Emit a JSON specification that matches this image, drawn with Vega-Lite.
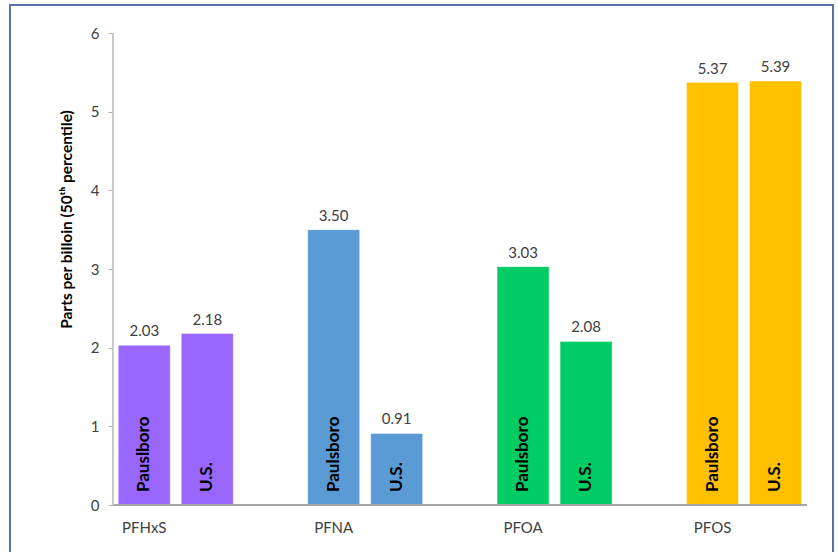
{
  "$schema": "https://vega.github.io/schema/vega-lite/v6.json",
  "autosize": {"type": "none"},
  "padding": {"left": 10, "top": 5, "right": 5, "bottom": 0},
  "width": 823,
  "height": 560,
  "background": "white",
  "config": {
    "view": {"stroke": "#5575a8", "strokeWidth": 2},
    "font": "Lato",
    "text": {"font": "Lato"}
  },
  "data": {
    "values": [
      {"chemical": "PFHxS", "site": "Paulsboro", "name": "Pauslboro", "value": 2.03},
      {"chemical": "PFHxS", "site": "U.S.", "name": "U.S.", "value": 2.18},
      {"chemical": "PFNA", "site": "Paulsboro", "name": "Paulsboro", "value": 3.50},
      {"chemical": "PFNA", "site": "U.S.", "name": "U.S.", "value": 0.91},
      {"chemical": "PFOA", "site": "Paulsboro", "name": "Paulsboro", "value": 3.03},
      {"chemical": "PFOA", "site": "U.S.", "name": "U.S.", "value": 2.08},
      {"chemical": "PFOS", "site": "Paulsboro", "name": "Paulsboro", "value": 5.37},
      {"chemical": "PFOS", "site": "U.S.", "name": "U.S.", "value": 5.39}
    ]
  },
  "encoding": {
    "x": {
      "field": "chemical",
      "type": "nominal",
      "sort": ["PFHxS", "PFNA", "PFOA", "PFOS"],
      "scale": {"paddingInner": 0.335, "paddingOuter": 0.34, "align": 0.798},
      "axis": {
        "orient": "bottom",
        "offset": -60,
        "title": null,
        "domain": false,
        "ticks": false,
        "labelAngle": 0,
        "labelOffset": -31.5,
        "labelPadding": 15,
        "labelFontSize": 15,
        "labelColor": "#404040",
        "labelFont": "Lato"
      }
    }
  },
  "layer": [
    {
      "mark": {"type": "bar", "stroke": "#ffffff", "strokeOpacity": 0.4, "strokeWidth": 1},
      "encoding": {
        "xOffset": {
          "field": "site",
          "type": "nominal",
          "sort": ["Paulsboro", "U.S."],
          "scale": {"paddingInner": 0.175, "paddingOuter": 0.0875}
        },
        "y": {
          "field": "value",
          "type": "quantitative",
          "scale": {"domain": [-0.762, 6.356], "nice": false, "zero": false},
          "axis": {
            "orient": "left",
            "offset": -103,
            "values": [0, 1, 2, 3, 4, 5, 6],
            "format": "d",
            "domain": false,
            "grid": false,
            "ticks": true,
            "tickSize": 5,
            "tickColor": "#b0b0b0",
            "labelPadding": 9,
            "labelFontSize": 15,
            "labelColor": "#404040",
            "labelFont": "Lato",
            "title": "Parts per billoin (50ᵗʰ percentile)",
            "titleFont": "Lato",
            "titleFontSize": 15.5,
            "titleFontWeight": "bold",
            "titleColor": "#000000",
            "titleAngle": -90,
            "titleAlign": "center",
            "titleBaseline": "middle",
            "titleX": -47,
            "titleY": 214
          }
        },
        "color": {
          "field": "chemical",
          "type": "nominal",
          "scale": {
            "domain": ["PFHxS", "PFNA", "PFOA", "PFOS"],
            "range": ["#9966ff", "#5b9bd5", "#00cc66", "#ffc000"]
          },
          "legend": null
        }
      }
    },
    {
      "mark": {"type": "text", "baseline": "alphabetic", "dy": -9, "fontSize": 15, "color": "#404040"},
      "encoding": {
        "xOffset": {"field": "site", "type": "nominal", "sort": ["Paulsboro", "U.S."]},
        "y": {"field": "value", "type": "quantitative"},
        "text": {"field": "value", "type": "quantitative", "format": ".2f"}
      }
    },
    {
      "mark": {"type": "text", "angle": 270, "align": "left", "baseline": "middle", "dx": 13, "fontSize": 17, "fontWeight": "bold", "color": "#000000"},
      "encoding": {
        "xOffset": {"field": "site", "type": "nominal", "sort": ["Paulsboro", "U.S."]},
        "y": {"datum": 0, "type": "quantitative"},
        "text": {"field": "name", "type": "nominal"}
      }
    },
    {
      "mark": {"type": "rule", "color": "#a6a6a6", "strokeWidth": 1},
      "encoding": {
        "x": {"datum": "PFHxS", "type": "nominal", "bandPosition": 0},
        "x2": {"datum": "PFOS", "bandPosition": 1},
        "y": {"datum": 0, "type": "quantitative"}
      }
    },
    {
      "mark": {"type": "rule", "color": "#c8c8c8", "strokeWidth": 1},
      "encoding": {
        "x": {"datum": "PFHxS", "type": "nominal", "bandPosition": 0},
        "y": {"datum": 0, "type": "quantitative"},
        "y2": {"datum": 6}
      }
    }
  ]
}
